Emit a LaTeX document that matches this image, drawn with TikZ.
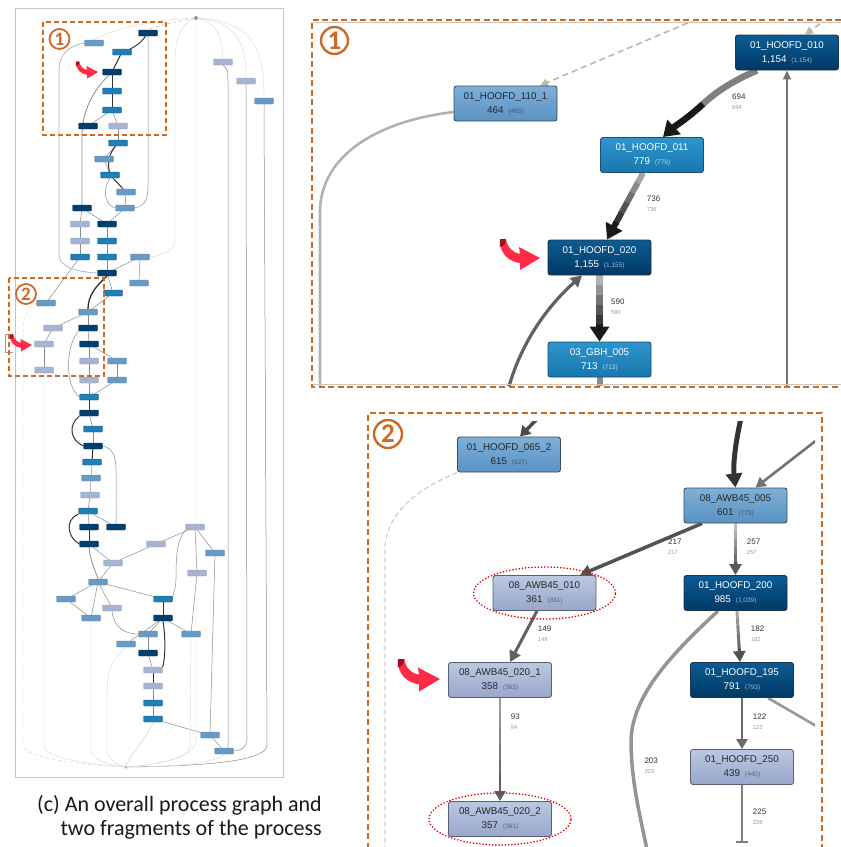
\documentclass[tikz,border=0pt]{standalone}
\usepackage{fontspec}
\setmainfont{Liberation Sans}
\newfontfamily\capfont{Carlito}
\usetikzlibrary{arrows.meta,shapes.geometric,calc}
\pgfdeclarelayer{background}
\pgfsetlayers{background,main}
\definecolor{dtop}{HTML}{0B5C94}
\definecolor{dbot}{HTML}{013864}
\definecolor{dbd}{HTML}{1C3550}
\definecolor{mtop}{HTML}{2E95CC}
\definecolor{mbot}{HTML}{1877AE}
\definecolor{mbd}{HTML}{1E4E70}
\definecolor{stp}{HTML}{7EB0D8}
\definecolor{sbt}{HTML}{5A92C2}
\definecolor{sbd}{HTML}{3A4C60}
\definecolor{ptop}{HTML}{BCC8E2}
\definecolor{pbot}{HTML}{97A7CB}
\definecolor{pbd}{HTML}{5A6070}
\definecolor{subd}{HTML}{9FB8D4}
\definecolor{subm}{HTML}{B8D8EC}
\definecolor{subs}{HTML}{3E5878}
\definecolor{subp}{HTML}{5A6478}
\definecolor{orng}{HTML}{CF6A25}
\definecolor{redarr}{HTML}{FF2B47}
\definecolor{darkred}{HTML}{9E1020}
\definecolor{sage}{HTML}{B2BFA6}
\definecolor{pinkg}{HTML}{D9CACA}
\newcommand{\ntx}[4]{#1\\#2\hspace{5pt}{\fontsize{6.5}{8}\selectfont\color{#4}(#3)}}
% gradient straight connector: #1 from, #2 to, #3 width, #4 start shade, #5 end shade, #6 tip
\newcommand{\gline}[6]{%
  \foreach \i [evaluate=\i as \cc using {int(#4+(#5-#4)*\i/5)}] in {0,...,4}
    \draw[draw=black!\cc, line width=#3] ($(#1)!\i*0.15!(#2)$) -- ($(#1)!\i*0.15+0.16!(#2)$);
  \draw[draw=black!#5, line width=#3, -{#6}] ($(#1)!0.74!(#2)$) -- (#2);}
\tikzset{
  box/.style={rectangle, rounded corners=2.5pt, minimum width=103pt, minimum height=35pt, inner sep=0pt, line width=0.9pt, align=center, font=\fontsize{9.8}{14}\selectfont},
  dbox/.style={box, top color=dtop, bottom color=dbot, draw=dbd, text=white},
  mbox/.style={box, top color=mtop, bottom color=mbot, draw=mbd, text=white},
  sbox/.style={box, top color=stp, bottom color=sbt, draw=sbd, text=black!85},
  pbox/.style={box, top color=ptop, bottom color=pbot, draw=pbd, text=black!85},
  elab/.style={anchor=west, inner sep=0pt, font=\fontsize{8}{9}\selectfont, text=black!80},
  esub/.style={anchor=west, inner sep=0pt, font=\fontsize{5.8}{7}\selectfont, text=black!40},
  ov/.style={rectangle, rounded corners=0.8pt, minimum width=19pt, minimum height=6pt, inner sep=0pt, line width=0.3pt},
  ovd/.style={ov, fill=dbot!80!dtop, draw=dbd},
  ovm/.style={ov, fill=mbot!70!mtop, draw=mbd},
  ovs/.style={ov, fill=sbt!70!stp, draw=sbd!70},
  ovp/.style={ov, fill=pbot!60!ptop, draw=pbd!60},
  ol/.style={draw=black!45, line width=0.5pt},
  od/.style={draw=black!80, line width=1pt},
  of/.style={draw=black!14, line width=0.45pt},
  ring/.style={circle, draw=orng, text=orng, inner sep=0pt},
  pdash/.style={orng, line width=1.3pt, dash pattern=on 6pt off 3.5pt},
  reddot/.style={ellipse, draw=red!90!black, line width=1.8pt, dash pattern=on 0pt off 3.2pt, line cap=round, minimum width=142pt, minimum height=52pt, inner sep=0pt},
  redarrow/.pic={
    \fill[redarr] (-40,-19) .. controls (-41,-5) and (-31,4) .. (-20,5) -- (-20,12) -- (0,0) -- (-21,-11) -- (-20,-4) .. controls (-27,-5) and (-33,-11) .. (-34,-19) -- cycle;
    \fill[darkred] (-40,-19) -- (-34,-19) -- (-35.5,-13) -- (-40.3,-11) -- cycle;
  }
}
\begin{document}
\begin{tikzpicture}[x=1pt,y=-1pt]
\useasboundingbox (0,0) rectangle (841,847);
\begin{pgfonlayer}{background}
\fill[white] (0,0) rectangle (841,847);
\end{pgfonlayer}

%================ OVERVIEW =================
\draw[black!22, line width=0.6pt] (15,8) rectangle (283,777);
\node[circle, fill=sage!80!black, inner sep=0pt, minimum size=4pt] (start) at (196,18) {};
\node[circle, fill=red!40!black!30, inner sep=0pt, minimum size=3.5pt] (end) at (126,767) {};
\node[ovd] (n1) at (148,33) {};
\node[ovs] (n2) at (94,43) {};
\node[ovm] (n3) at (122,52) {};
\node[ovd] (n4) at (112,72) {};
\node[ovm] (n5) at (112,91) {};
\node[ovm] (n6) at (112,110) {};
\node[ovd] (n7) at (88,126) {};
\node[ovp] (n8) at (118,126) {};
\node[ovm] (n9) at (118,143) {};
\node[ovs] (n10) at (104,159) {};
\node[ovm] (n11) at (110,175) {};
\node[ovs] (n12) at (126,192) {};
\node[ovs] (n13) at (125,208) {};
\node[ovd] (n14) at (82,208) {};
\node[ovp] (n15) at (80,224) {};
\node[ovd] (n16) at (107,224) {};
\node[ovp] (n17) at (80,241) {};
\node[ovm] (n18) at (107,241) {};
\node[ovm] (n19) at (80,257) {};
\node[ovm] (n20) at (107,257) {};
\node[ovs] (n21) at (140,257) {};
\node[ovd] (n22) at (107,273) {};
\node[ovs] (n23) at (139,283) {};
\node[ovm] (n24) at (113,293) {};
\node[ovs] (n25) at (46,303) {};
\node[ovs] (n26) at (88,312) {};
\node[ovp] (n27) at (53,328) {};
\node[ovd] (n28) at (88,328) {};
\node[ovp] (n29) at (44,344) {};
\node[ovd] (n30) at (89,344) {};
\node[ovp] (n31) at (89,361) {};
\node[ovs] (n32) at (117,361) {};
\node[ovp] (n33) at (44,370) {};
\node[ovp] (n34) at (89,380) {};
\node[ovs] (n35) at (117,380) {};
\node[ovm] (n36) at (89,397) {};
\node[ovp] (n37) at (223,62) {};
\node[ovp] (n38) at (246,81) {};
\node[ovs] (n39) at (264,101) {};
\node[ovd] (m2) at (89,413) {};
\node[ovm] (m3) at (93,429) {};
\node[ovd] (m4) at (93,446) {};
\node[ovm] (m5) at (92,462) {};
\node[ovs] (m6) at (91,478) {};
\node[ovp] (m7) at (90,495) {};
\node[ovm] (m8) at (88,511) {};
\node[ovd] (m9) at (89,527) {};
\node[ovd] (m10) at (116,527) {};
\node[ovd] (m11) at (89,544) {};
\node[ovp] (m12) at (113,563) {};
\node[ovp] (m13) at (156,544) {};
\node[ovp] (m14) at (195,527) {};
\node[ovs] (m15) at (215,553) {};
\node[ovs] (m16) at (98,582) {};
\node[ovp] (m16b) at (197,573) {};
\node[ovs] (m17) at (66,599) {};
\node[ovs] (m18) at (91,618) {};
\node[ovp] (m19) at (112,608) {};
\node[ovm] (m20) at (163,599) {};
\node[ovd] (m21) at (163,618) {};
\node[ovs] (m22) at (148,634) {};
\node[ovs] (m23) at (191,634) {};
\node[ovs] (m24) at (126,644) {};
\node[ovd] (m25) at (148,653) {};
\node[ovp] (m26) at (153,670) {};
\node[ovp] (m27) at (153,686) {};
\node[ovm] (m28) at (153,703) {};
\node[ovm] (m29) at (153,719) {};
\node[ovs] (m30) at (210,735) {};
\node[ovs] (m31) at (224,751) {};

\begin{pgfonlayer}{background}
\foreach \a/\b in {n6/n7,n6/n8,n8/n9,n9/n10,n10/n11,n12/n13,n14/n16,n13/n16,n14/n15,n15/n17,n16/n18,n17/n19,n18/n20,n19/n25,n20/n22,n21/n22,n21/n23,n22/n24,n24/n26,n26/n27,n26/n28,n27/n29,n28/n30,n29/n33,n30/n31,n30/n32,n31/n34,n32/n35,n34/n36,n35/n36,m2/m3,m3/m4,m5/m6,m6/m7,m7/m8,m8/m9,m8/m10,m11/m12,m12/m16,m13/m12,m14/m13,m14/m15,m14/m16b,m16/m17,m16/m18,m16/m19,m16/m20,m17/m18,m21/m22,m21/m23,m21/m24,m22/m25,m25/m26,m16b/m23,m27/m28,m28/m29,m29/m30,m30/m31,m15/m30}
  \draw[ol] (\a) -- (\b);
\foreach \a/\b in {n3/n4,n4/n5,n5/n6,n11/n12,n36/m2,m4/m5,m9/m11,m20/m21,m26/m27}
  \draw[od] (\a) -- (\b);
\draw[od] (n1) to[bend left=15] (n3);
\draw[od] (n9) to[bend right=25] (n11);
\draw[od, line width=1.3pt] (n22.south) .. controls (97,285) and (88,295) .. (n26.north);
\draw[ol, line width=0.8pt] (n14.north) -- (82,135) .. controls (82,110) and (95,88) .. ([xshift=-3pt]n4.south);
\draw[ol] (n13.east) .. controls (146,206) and (148,198) .. (148,185) -- (n1.south);
\draw[draw=black!28, line width=0.8pt] (n2.west) .. controls (68,46) and (59,55) .. (59,70) -- (59,255) .. controls (59,268) and (80,272) .. (n22.west);
\draw[ol] (n11.south) .. controls (100,195) and (108,206) .. (n13.west);
\draw[ol] (n28.south west) .. controls (66,345) and (64,385) .. (n36.west);
\draw[od] (m2.south west) .. controls (68,425) and (70,440) .. (m4.west);
\draw[ol] (m4.east) .. controls (112,448) and (116,455) .. (116,470) -- (m10.north);
\draw[od] (m8.south west) .. controls (64,520) and (68,538) .. (m11.west);
\draw[ol, line width=0.8pt] (m11.south) .. controls (90,560) and (95,570) .. (m16.north);
\draw[ol] (m14.south west) .. controls (178,540) and (176,550) .. (176,578) .. controls (176,590) and (172,595) .. (m20.east);
\draw[ol] (m19.south) .. controls (114,628) and (125,634) .. (m22.west);
\draw[od] (m21.south) .. controls (166,640) and (165,660) .. (m26.north east);
\draw[ol] (n37.south) .. controls (228,70) .. (228,82) -- (228,742) -- ([xshift=4pt]m31.north);
\draw[ol] (n38.south) -- (247,738) .. controls (247,748) and (240,751) .. (m31.east);
\draw[ol] (n39.south) -- (267,745) .. controls (267,762) and (200,766) .. (end);
\draw[sage, line width=0.5pt, dashed] (start) .. controls (175,22) and (155,26) .. (n1.north);
\draw[of] (start) .. controls (150,20) and (110,30) .. (n2.north);
\draw[of] (start) .. controls (215,22) and (223,35) .. (n37.north);
\draw[of] (start) .. controls (235,22) and (246,40) .. (n38.north);
\draw[of] (start) .. controls (255,22) and (264,50) .. (n39.north);
\draw[of] (start) -- (196,740) .. controls (196,760) and (150,765) .. (end);
\draw[of] (start) .. controls (180,25) and (175,40) .. (175,60) -- (175,240) .. controls (175,252) and (160,256) .. (n21.east);
\draw[pinkg, line width=0.45pt, dashed] (n25.west) .. controls (25,310) and (23,320) .. (23,340) -- (23,745) .. controls (23,760) and (100,766) .. (end);
\draw[of] (n33.south) -- (44,745) .. controls (44,760) and (100,765) .. (end);
\draw[of] (m18.south) -- (91,750) .. controls (91,760) and (110,765) .. (end);
\draw[of] (m24.south) .. controls (110,660) and (107,670) .. (107,700) -- (107,750) .. controls (107,760) and (118,765) .. (end);
\draw[pinkg, line width=0.45pt] (m29.south) .. controls (145,740) and (130,755) .. (end);
\draw[of] (m23.south) -- (190,745) .. controls (190,760) and (150,765) .. (end);
\draw[of] (m31.south) .. controls (215,765) and (160,767) .. (end);
\end{pgfonlayer}
\draw[black!40, line width=0.5pt] (13,334) -- (5,334) -- (5,352) -- (13,352);
\pic[scale=0.55] at (98,72) {redarrow};
\pic[scale=0.55] at (32,345) {redarrow};
\draw[orng, line width=1.6pt, dash pattern=on 5pt off 3pt] (43,22) rectangle (166,135);
\draw[orng, line width=1.6pt, dash pattern=on 5pt off 3pt] (9,278) rectangle (104,376);
\node[ring, line width=1.8pt, minimum size=20pt, font=\capfont\bfseries\fontsize{19}{19}\selectfont] (ok1) at (59.5,39) {1};
\node[ring, line width=1.8pt, minimum size=20pt, font=\capfont\bfseries\fontsize{19}{19}\selectfont] (ok2) at (26,294) {2};

\node[anchor=base east, inner sep=0pt, font=\capfont\fontsize{22}{24}\selectfont, text=black!90] (cap1) at (322,811.5) {(c) An overall process graph and};
\node[anchor=base east, inner sep=0pt, font=\capfont\fontsize{22}{24}\selectfont, text=black!90] (cap2) at (322,835) {two fragments of the process};

%================ PANEL 1 =================
\node[dbox] (a010) at (787,52.5) {\ntx{01\_HOOFD\_010}{1,154}{1,154}{subd}};
\node[sbox] (a110) at (505.5,103.5) {\ntx{01\_HOOFD\_110\_1}{464}{465}{subs}};
\node[mbox] (a011) at (652,155) {\ntx{01\_HOOFD\_011}{779}{779}{subm}};
\node[dbox] (a020) at (599.5,257.5) {\ntx{01\_HOOFD\_020}{1,155}{1,155}{subd}};
\node[mbox] (g005) at (599.5,359.5) {\ntx{03\_GBH\_005}{713}{713}{subm}};
\node[elab] (l694) at (732,96.7) {694};
\node[esub] (s694) at (732,107) {694};
\node[elab] (l736) at (646.7,199) {736};
\node[esub] (s736) at (646.7,209.3) {736};
\node[elab] (l590) at (611,302) {590};
\node[esub] (s590) at (611,312.3) {590};
\coordinate (c1) at (508,390);
\coordinate (c2) at (787,390);
\coordinate (c3) at (697,19);
\coordinate (c4) at (828,18);
\coordinate (c5) at (599.5,390);
\coordinate (c6) at (320,390);
\coordinate (m694) at (703,104);
\coordinate (p736a) at ([xshift=-9pt]a011.south);
\coordinate (p736b) at ([xshift=7.5pt]a020.north);
\begin{pgfonlayer}{background}
\begin{scope}
\clip (313,21) rectangle (841,385);
\draw[draw=black!30, line width=2.6pt] ([yshift=-8.5pt]a110.west) .. controls (370,122) and (320,160) .. (320,212) -- (c6);
\draw[draw=black!55, line width=1.8pt, -{Triangle[length=9pt,width=8pt]}] (c2) -- (a010.south);
\draw[sage, line width=1.6pt, dash pattern=on 6pt off 4pt, -{Triangle[length=8pt,width=8pt]}] (c3) -- ([xshift=34.5pt]a110.north);
\draw[sage, line width=1.6pt, dash pattern=on 6pt off 4pt, -{Triangle[length=8pt,width=8pt]}] (c4) -- ([xshift=18pt]a010.north);
\draw[draw=black!50, line width=6.5pt] ([xshift=-30pt]a010.south) .. controls (735,80) and (718,90) .. (m694);
\draw[draw=black!90, line width=6.5pt, -{Triangle[length=15pt,width=19pt]}] (m694) .. controls (688,118) and (675,126) .. ([xshift=11pt]a011.north);
\gline{p736a}{p736b}{6pt}{35}{90}{Triangle[length=15pt,width=18pt]}
\gline{a020.south}{g005.north}{7pt}{30}{90}{Triangle[length=15pt,width=19pt]}
\draw[draw=black!62, line width=3.2pt, -{Triangle[length=11pt,width=12pt]}] (c1) .. controls (522,338) and (552,302) .. ([xshift=-17.5pt]a020.south);
\draw[draw=black!45, line width=6pt] (g005.south) -- (c5);
\end{scope}
\draw[black!22, line width=0.6pt] (313,22) -- (841,22);
\draw[black!22, line width=0.6pt] (313,384) -- (841,384);
\end{pgfonlayer}
\pic at (540,258) {redarrow};
\draw[pdash] (841,20) -- (312,20) -- (312,387) -- (841,387);
\node[ring, line width=2.4pt, minimum size=27pt, font=\capfont\bfseries\fontsize{27}{27}\selectfont] (k1) at (334.5,40.5) {1};

%================ PANEL 2 =================
\node[sbox] (b065) at (509,454.5) {\ntx{01\_HOOFD\_065\_2}{615}{627}{subs}};
\node[sbox] (b005) at (735.5,505.5) {\ntx{08\_AWB45\_005}{601}{773}{subs}};
\node[pbox] (b010) at (544.5,593) {\ntx{08\_AWB45\_010}{361}{361}{subp}};
\node[dbox] (b200) at (735.5,593) {\ntx{01\_HOOFD\_200}{985}{1,039}{subd}};
\node[pbox] (b201) at (500,680) {\ntx{08\_AWB45\_020\_1}{358}{363}{subp}};
\node[dbox] (b195) at (742,680) {\ntx{01\_HOOFD\_195}{791}{793}{subd}};
\node[pbox] (b250) at (742,767) {\ntx{01\_HOOFD\_250}{439}{440}{subp}};
\node[pbox] (b202) at (500,819) {\ntx{08\_AWB45\_020\_2}{357}{361}{subp}};
\node[elab] (l217) at (668,541.7) {217};
\node[esub] (s217) at (668,552) {217};
\node[elab] (l257) at (746.7,541.7) {257};
\node[esub] (s257) at (746.7,552) {257};
\node[elab] (l149) at (537.7,629) {149};
\node[esub] (s149) at (537.7,639.3) {149};
\node[elab] (l182) at (750.7,629) {182};
\node[esub] (s182) at (750.7,639.3) {182};
\node[elab] (l93) at (510.7,716.7) {93};
\node[esub] (s93) at (510.7,727) {94};
\node[elab] (l122) at (752.7,716.7) {122};
\node[esub] (s122) at (752.7,727) {122};
\node[elab] (l203) at (644.3,760.7) {203};
\node[esub] (s203) at (644.3,771) {203};
\node[elab] (l225) at (752.7,811.7) {225};
\node[esub] (s225) at (752.7,822) {226};
\coordinate (d1) at (538,418);
\coordinate (d2) at (741,418);
\coordinate (d3) at (822,436);
\coordinate (d4) at (830,734);
\coordinate (d5) at (647,850);
\coordinate (d6) at (742,843);
\coordinate (d7) at (385,850);
\coordinate (d8) at (500,850);
\coordinate (p182a) at ([xshift=1.5pt]b200.south);
\coordinate (p182b) at ([xshift=-2pt]b195.north);
\begin{pgfonlayer}{background}
\begin{scope}
\clip (369,421) rectangle (815,847);
\draw[pinkg, line width=1.2pt, dash pattern=on 5pt off 3pt] (b065.south west) .. controls (415,490) and (385,515) .. (385,550) -- (d7);
\draw[black!12, line width=1pt, dashed] (b202.south) -- (d8);
\draw[draw=black!70, line width=3.5pt, -{Triangle[length=10pt,width=12pt]}] (d1) -- ([xshift=11pt]b065.north);
\draw[draw=black!80, line width=5pt, -{Triangle[length=14pt,width=16pt]}] (d2) .. controls (735,445) and (733,465) .. (b005.north);
\draw[draw=black!55, line width=2.6pt, -{Triangle[length=10pt,width=11pt]}] (d3) -- ([xshift=20pt]b005.north);
\draw[draw=black!68, line width=3.5pt, -{Triangle[length=11pt,width=12pt]}] ([xshift=-33.5pt]b005.south) -- ([xshift=35.5pt]b010.north);
\gline{b005.south}{b200.north}{3.5pt}{25}{65}{Triangle[length=11pt,width=12pt]}
\draw[draw=black!62, line width=3pt, -{Triangle[length=11pt,width=12pt]}] ([xshift=-7.5pt]b010.south) -- ([xshift=10pt]b201.north);
\gline{p182a}{p182b}{3pt}{35}{68}{Triangle[length=11pt,width=12pt]}
\gline{b201.south}{b202.north}{2.8pt}{38}{62}{Triangle[length=10pt,width=11pt]}
\draw[draw=black!58, line width=2.6pt, -{Triangle[length=10pt,width=11pt]}] (b195.south) -- (b250.north);
\draw[draw=black!40, line width=2.6pt] ([xshift=26pt]b195.south) -- (d4);
\draw[draw=black!42, line width=3.5pt] ([xshift=-17.5pt]b200.south) .. controls (665,660) and (630,700) .. (631,745) .. controls (632,785) and (640,815) .. (d5);
\draw[draw=black!50, line width=2.6pt, -{Bar[width=12pt,line width=1.6pt]}] (b250.south) -- (d6);
\end{scope}
\end{pgfonlayer}
\node[reddot] (e1) at (b010.center) {};
\node[reddot] (e2) at (b202.center) {};
\pic[scale=1.05] at (440,679) {redarrow};
\draw[pdash] (822,850) -- (822,413) -- (368,413) -- (368,850);
\node[ring, line width=2.4pt, minimum size=28pt, font=\capfont\bfseries\fontsize{27}{27}\selectfont] (k2) at (388,434) {2};
\end{tikzpicture}
\end{document}
